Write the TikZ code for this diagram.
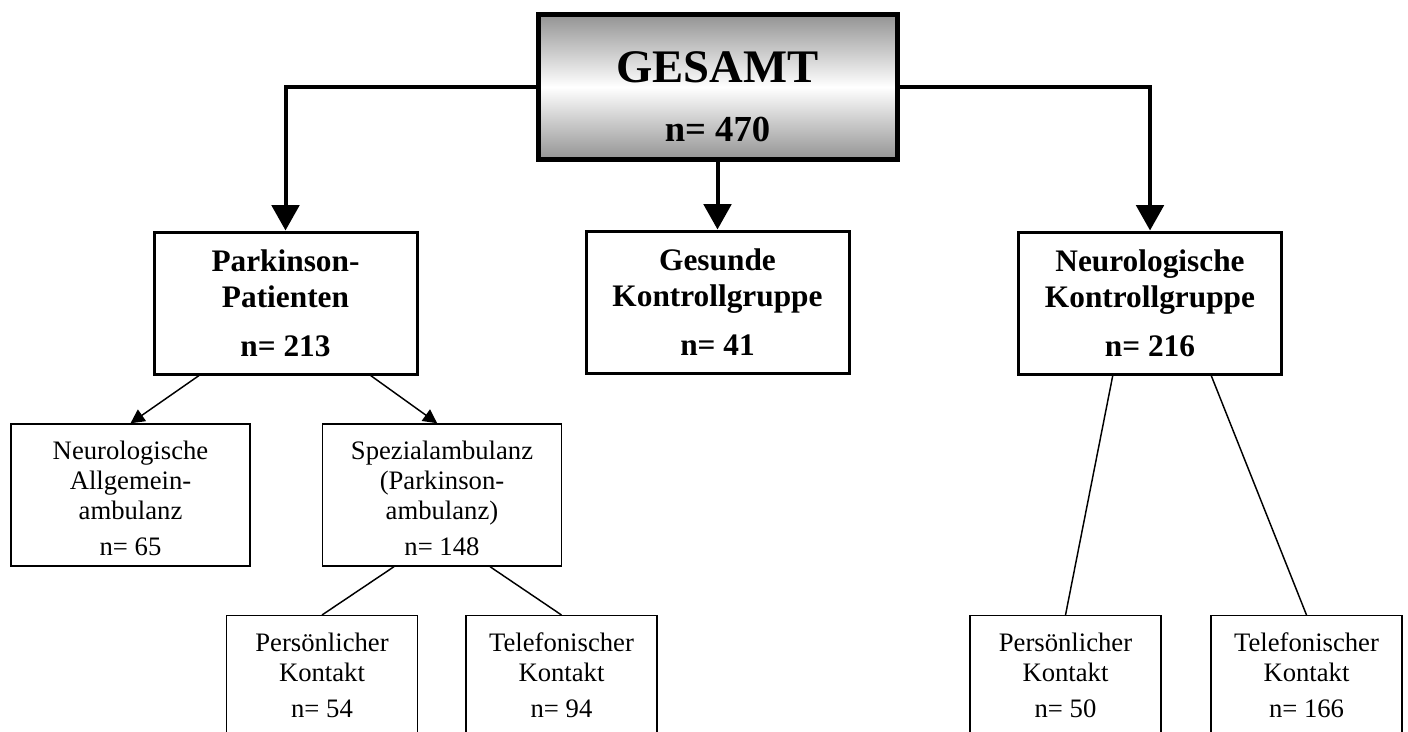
\documentclass[tikz,border=0pt]{standalone}
\usepackage{fontspec}
\setmainfont{Liberation Serif}
\usetikzlibrary{arrows.meta,calc}
% strut that gives the first line of a clinic box a little extra head room
\newcommand{\headroom}{\rule{0pt}{19.5pt}}
\begin{document}
\begin{tikzpicture}[x=0.75pt,y=-0.75pt,
  topbox/.style={draw, line width=3.75pt, inner sep=0pt,
    minimum width=269.25pt, minimum height=108pt,
    top color=black!42, bottom color=black!42, middle color=white},
  toptext/.style={inner sep=0pt, align=center,
    font=\fontsize{35}{44.25}\selectfont\bfseries},
  groupbox/.style={draw, line width=2.25pt, inner sep=0pt, fill=white,
    minimum width=197.25pt, minimum height=106.5pt, align=center,
    font=\fontsize{23.5}{27}\selectfont\bfseries},
  subbox/.style={draw, line width=1.1pt, inner sep=0pt, fill=white,
    minimum width=179.25pt, minimum height=106.5pt, align=center,
    font=\fontsize{20}{22.5}\selectfont},
  leafbox/.style={subbox, minimum width=143.25pt, minimum height=89.25pt, anchor=north},
  bigarrow/.style={line width=3pt, -{Triangle[length=19pt,width=20.5pt]}},
  smallarrow/.style={line width=1.1pt, -{Triangle[length=10.5pt,width=10.5pt]}},
  link/.style={line width=1.1pt}
]
\useasboundingbox (0,0) rectangle (1408,731);
\clip (0,0) rectangle (1408,731);

% top level
\node[topbox] (ges) at (717.5,87) {};
\node[toptext] (gestext) at (717.5,97) {GESAMT\\{\fontsize{27.5}{44.25}\selectfont n= 470}};

% groups
\node[groupbox] (park) at (285.5,303) {Parkinson-\\Patienten\\[9.75pt]n= 213};
\node[groupbox] (healthy) at (717.5,302) {Gesunde\\Kontrollgruppe\\[9.75pt]n= 41};
\node[groupbox] (neuro) at (1150,303) {Neurologische\\Kontrollgruppe\\[9.75pt]n= 216};

% outpatient clinics
\node[subbox] (general) at (130.5,495) {\headroom Neurologische\\Allgemein-\\ambulanz\\[4.5pt]n= 65};
\node[subbox] (special) at (442,495) {\headroom Spezialambulanz\\(Parkinson-\\ambulanz)\\[4.5pt]n= 148};

% contact type
\node[leafbox] (pk1) at (322,615) {Persönlicher\\Kontakt\\[5pt]n= 54};
\node[leafbox] (tk1) at (561.5,615) {Telefonischer\\Kontakt\\[5pt]n= 94};
\node[leafbox] (pk2) at (1065.5,615) {Persönlicher\\Kontakt\\[5pt]n= 50};
\node[leafbox] (tk2) at (1306.5,615) {Telefonischer\\Kontakt\\[5pt]n= 166};

% connectors
\draw[bigarrow] (ges.west) -| (park.north);
\draw[bigarrow] (ges.south) -- (healthy.north);
\draw[bigarrow] (ges.east) -| (neuro.north);

\draw[smallarrow] ($(park.south west)!0.175!(park.south east)$) -- (general.north);
\draw[smallarrow] ($(park.south west)!0.82!(park.south east)$) -- ($(special.north west)!0.48!(special.north east)$);
\draw[link] ($(special.south west)!0.30!(special.south east)$) -- (pk1.north);
\draw[link] ($(special.south west)!0.70!(special.south east)$) -- (tk1.north);
\draw[link] ($(neuro.south west)!0.36!(neuro.south east)$) -- (pk2.north);
\draw[link] ($(neuro.south west)!0.73!(neuro.south east)$) -- (tk2.north);
\end{tikzpicture}
\end{document}
